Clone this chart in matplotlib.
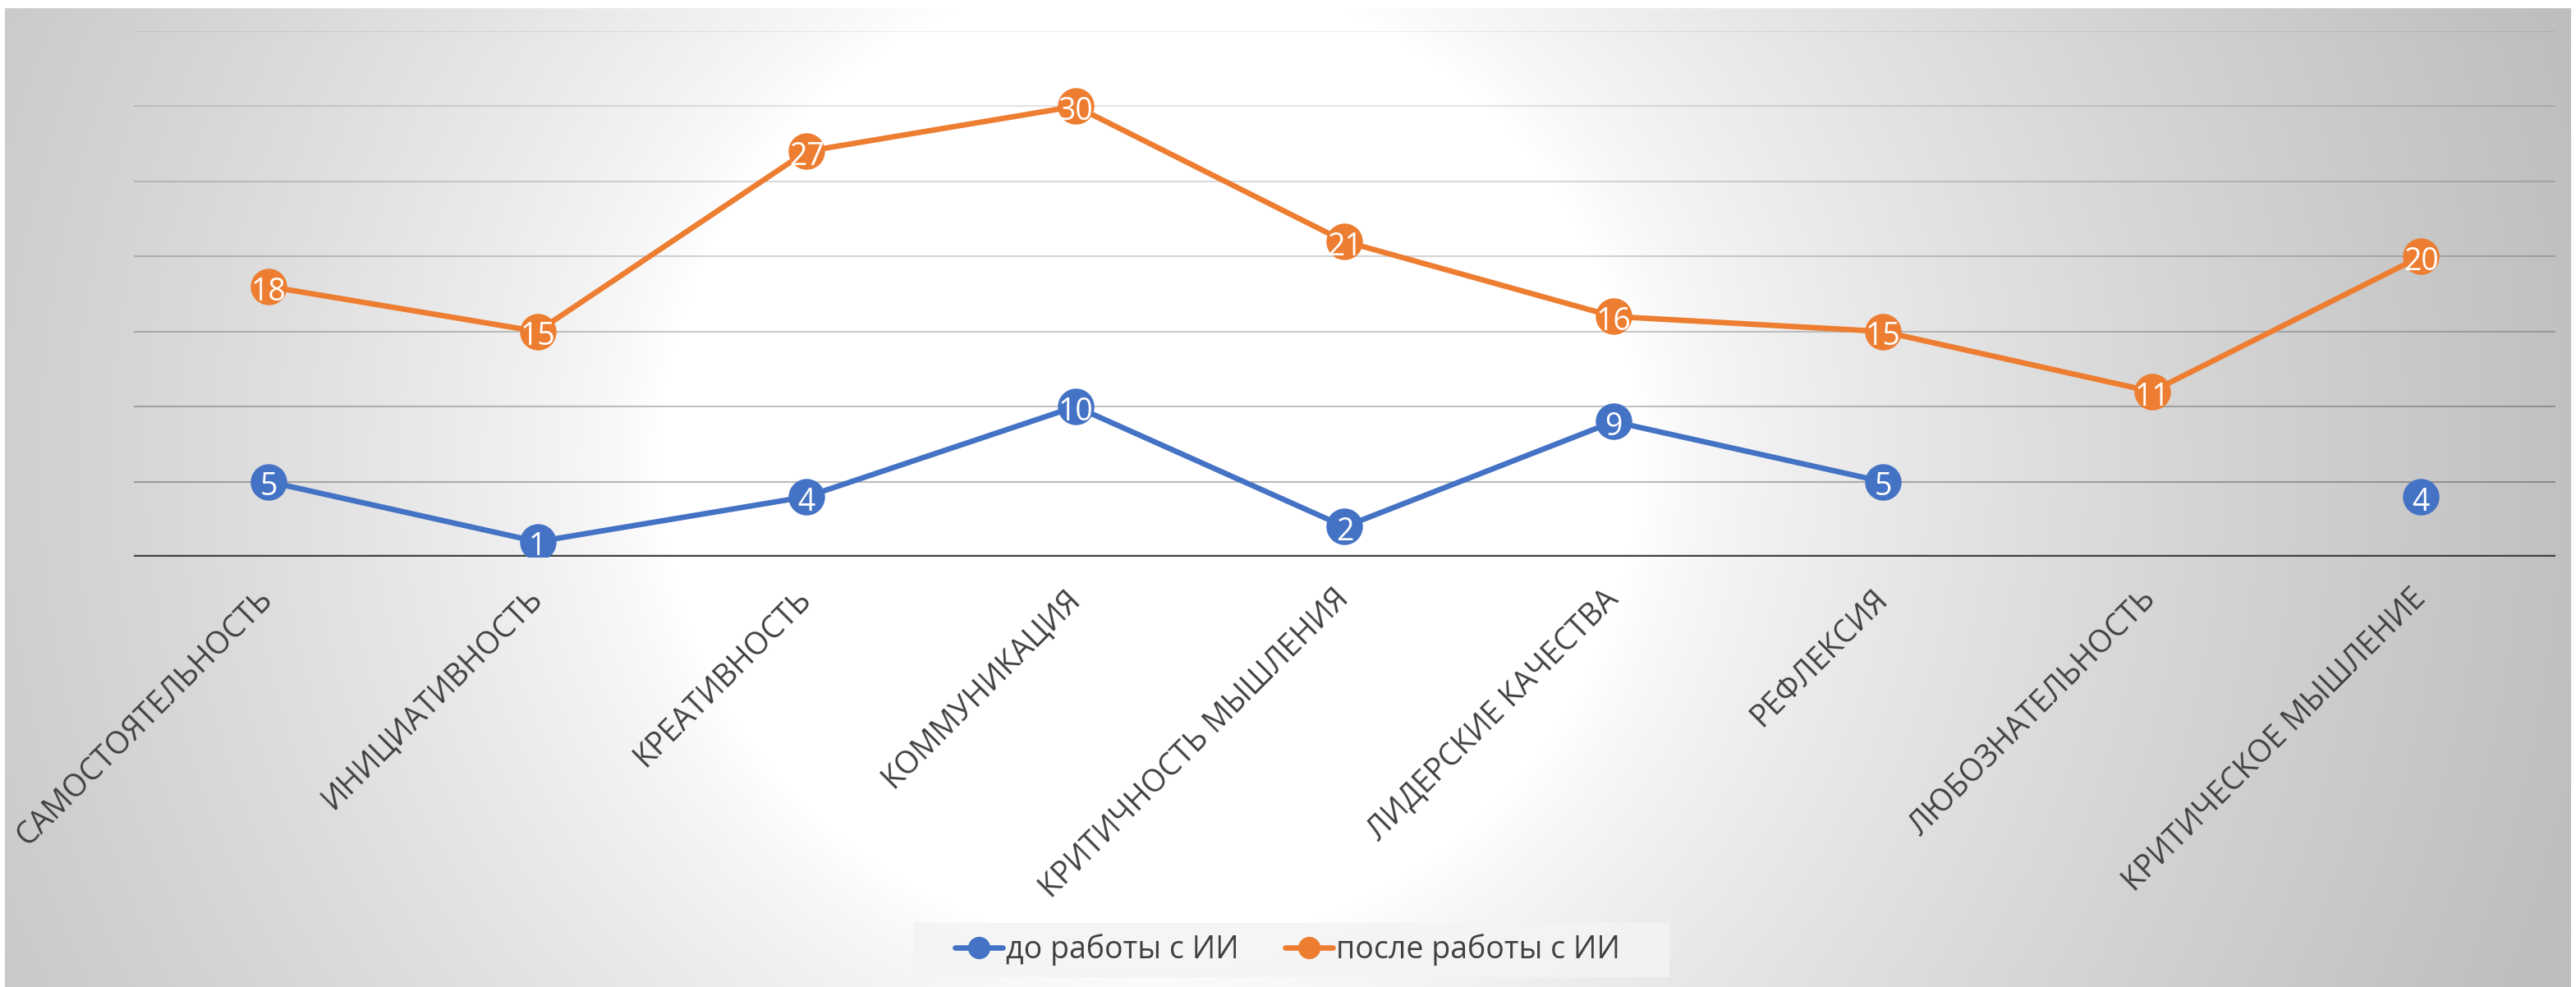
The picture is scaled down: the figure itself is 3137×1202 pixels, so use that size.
import numpy as np
import matplotlib
matplotlib.use("Agg")
import matplotlib.pyplot as plt
from matplotlib.patches import Rectangle

plt.rcParams['font.family'] = ['Open Sans', 'DejaVu Sans']

categories = ["САМОСТОЯТЕЛЬНОСТЬ", "ИНИЦИАТИВНОСТЬ", "КРЕАТИВНОСТЬ", "КОММУНИКАЦИЯ",
              "КРИТИЧНОСТЬ МЫШЛЕНИЯ", "ЛИДЕРСКИЕ КАЧЕСТВА", "РЕФЛЕКСИЯ",
              "ЛЮБОЗНАТЕЛЬНОСТЬ", "КРИТИЧЕСКОЕ МЫШЛЕНИЕ"]
before = [5, 1, 4, 10, 2, 9, 5, np.nan, 4]
after = [18, 15, 27, 30, 21, 16, 15, 11, 20]
series_names = ["до работы с ИИ", "после работы с ИИ"]
y_ticks = [5, 10, 15, 20, 25, 30, 35]

BLUE = "#4472C4"
ORANGE = "#ED7D31"
TXT = "#404040"

W, H = 3137, 1202
fig = plt.figure(figsize=(W / 100, H / 100), dpi=100)
fig.patch.set_facecolor("white")

# background radial gradient
bg = fig.add_axes([0, 0, 1, 1], zorder=0)
bg.set_xlim(0, W)
bg.set_ylim(H, 0)
bg.axis("off")
gx0, gx1, gy0, gy1 = 6, 3131, 10, H
xs = np.linspace(gx0, gx1, 800)
ys = np.linspace(gy0, gy1, 320)
X, Y = np.meshgrid(xs, ys)
cx, cy = 1400, 560
r = np.sqrt((X - cx) ** 2 + (Y - cy) ** 2)
tt = np.clip((r - 600) / 1200.0, 0, 1) ** 0.75
val = (255 - 65 * tt) / 255.0
img = np.dstack([val, val, val])
bg.imshow(img, extent=(gx0, gx1, gy1, gy0), aspect="auto", interpolation="bilinear")
bg.add_patch(Rectangle((1112, 1124), 2033 - 1112, 1190 - 1124, facecolor="#f4f4f4",
                       edgecolor="none", alpha=0.85))

# main axes
ax = fig.add_axes([163 / W, (H - 678) / H, (3112 - 163) / W, (678 - 38) / H], zorder=2)
ax.patch.set_alpha(0)
ax.set_xlim(-0.5, len(categories) - 0.5)
ax.set_ylim(0, 35)
for s in ax.spines.values():
    s.set_visible(False)
ax.set_yticks([])

alphas = np.linspace(0.27, 0.08, len(y_ticks))
for yv, a in zip(y_ticks, alphas):
    ax.axhline(yv, color="black", alpha=a, lw=1.5, zorder=1)
ax.axhline(0, color=TXT, lw=3.2, zorder=2)

x = np.arange(len(categories))
l1, = ax.plot(x, before, color=BLUE, lw=4.8, marker="o", ms=31, mec=BLUE, zorder=4,
              solid_capstyle="round")
l2, = ax.plot(x, after, color=ORANGE, lw=4.8, marker="o", ms=31, mec=ORANGE, zorder=4,
              solid_capstyle="round")

for xi, v in zip(x, before):
    if not np.isnan(v):
        ax.annotate(str(int(v)), (xi, v), xytext=(0, -12), textcoords="offset points",
                    ha="center", va="baseline", color="white", fontsize=27, zorder=5)
for xi, v in zip(x, after):
    ax.annotate(str(int(v)), (xi, v), xytext=(0, -12), textcoords="offset points",
                ha="center", va="baseline", color="white", fontsize=27, zorder=5)

ax.set_xticks(x)
ax.set_xticklabels(categories, rotation=45, ha="right", va="center", rotation_mode="anchor",
                   fontsize=27, color=TXT)
ax.tick_params(axis="x", length=0, pad=33)

leg = fig.legend([l1, l2], series_names, loc="center", bbox_to_anchor=(1568 / W, 1 - 1157 / H),
                 ncol=2, frameon=False, fontsize=27, markerscale=0.6, handlelength=1.55,
                 handletextpad=0.1, columnspacing=1.5, labelcolor=TXT)

fig.savefig("out.png", dpi=100)
